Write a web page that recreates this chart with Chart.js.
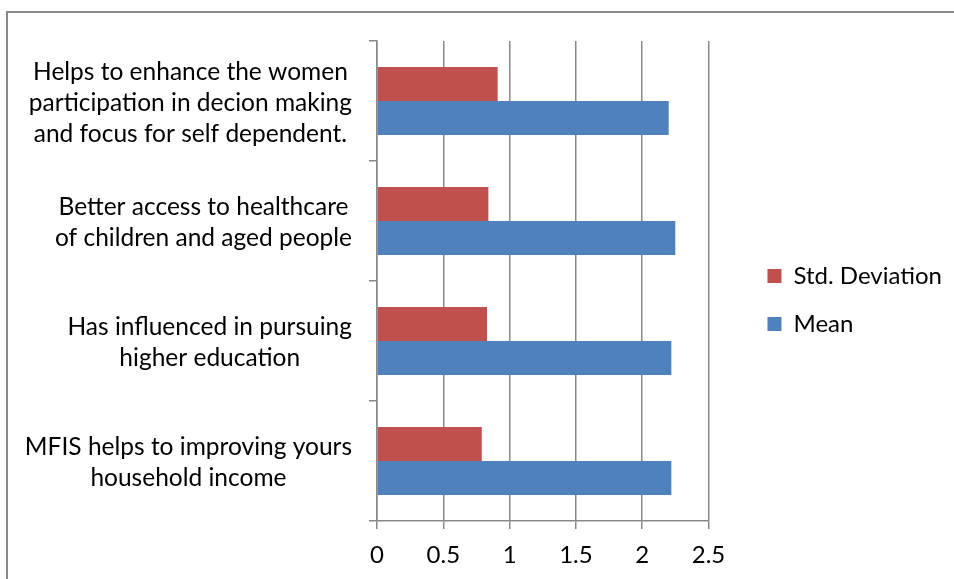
<!DOCTYPE html>
<html lang="en">
<head>
    <meta charset="UTF-8">
    <title>Mean and Std. Deviation</title>
    <script src="https://cdn.jsdelivr.net/npm/chart.js@4.4.1/dist/chart.umd.min.js"></script>
    <style>
        body {
            margin: 0;
            background-color: white;
            overflow: hidden;
        }
        .frame {
            position: absolute;
            left: 6px;
            top: 11px;
            width: 1000px;
            height: 600px;
            border-left: 2px solid #8a8a8a;
            border-top: 2px solid #8a8a8a;
        }
        #chart {
            position: absolute;
            left: 0;
            top: 0;
        }
    </style>
</head>
<body>
    <div class="frame"></div>
    <canvas id="chart" width="954" height="579"></canvas>

    <script>
        // statements, top to bottom
        const categories = [
            ['Helps to enhance the women', 'participation in decion making', 'and focus for self dependent.'],
            ['Better access to healthcare', 'of children and aged people'],
            ['Has influenced in pursuing', 'higher education'],
            ['MFIS helps to improving yours', 'household income']
        ];
        const stdDeviation = [0.91, 0.84, 0.83, 0.79];
        const meanValues = [2.20, 2.25, 2.22, 2.22];
        const xTicks = [0, 0.5, 1, 1.5, 2, 2.5];

        const fontFamily = 'Lato, "Open Sans", sans-serif';
        const gridColor = '#888888';

        // category text: each block centred on its own widest line, right edge near the axis
        const categoryLabels = {
            id: 'categoryLabels',
            afterDraw(chart) {
                const ctx = chart.ctx;
                const yScale = chart.scales.y;
                ctx.save();
                ctx.font = '24.5px ' + fontFamily;
                ctx.fillStyle = '#000';
                ctx.textAlign = 'center';
                ctx.textBaseline = 'middle';
                categories.forEach((lines, i) => {
                    const widest = Math.max(...lines.map(l => ctx.measureText(l).width));
                    const cx = yScale.right - 25 - widest / 2;
                    const cy = yScale.getPixelForTick(i) + 2;
                    lines.forEach((line, j) => {
                        ctx.fillText(line, cx, cy + (j - (lines.length - 1) / 2) * 31);
                    });
                });
                ctx.restore();
            }
        };

        // move the legend a little right of the plot and slightly up
        const legendOffset = {
            id: 'legendOffset',
            afterLayout(chart) {
                const lg = chart.legend;
                lg.left += 35;
                lg.right += 35;
                lg.top -= 10;
                lg.bottom -= 10;
            }
        };

        const ctx = document.getElementById('chart').getContext('2d');
        new Chart(ctx, {
            type: 'bar',
            data: {
                labels: categories,
                datasets: [
                    {
                        label: 'Std. Deviation',
                        data: stdDeviation,
                        backgroundColor: '#C0504D',
                        borderWidth: 0
                    },
                    {
                        label: 'Mean',
                        data: meanValues,
                        backgroundColor: '#4F81BD',
                        borderWidth: 0
                    }
                ]
            },
            options: {
                indexAxis: 'y',
                responsive: false,
                animation: false,
                devicePixelRatio: 1,
                categoryPercentage: 0.567,
                barPercentage: 1,
                layout: {
                    padding: { top: 41, bottom: 0, left: 0, right: 37 }
                },
                scales: {
                    x: {
                        min: 0,
                        max: 2.5,
                        afterFit: s => { s.height = 58; },
                        afterBuildTicks: s => { s.ticks = xTicks.map(v => ({ value: v })); },
                        grid: {
                            color: gridColor,
                            lineWidth: 1.5,
                            tickLength: 8
                        },
                        border: { color: gridColor, width: 1.5 },
                        ticks: {
                            color: '#000',
                            padding: 12,
                            font: { family: fontFamily, size: 24 },
                            callback: v => String(v)
                        }
                    },
                    y: {
                        afterFit: s => { s.width = 377; },
                        grid: {
                            offset: true,
                            drawOnChartArea: false,
                            color: gridColor,
                            lineWidth: 1.5,
                            tickLength: 8
                        },
                        border: { color: gridColor, width: 1.5 },
                        ticks: { display: false }
                    }
                },
                plugins: {
                    legend: {
                        position: 'right',
                        labels: {
                            boxWidth: 14,
                            boxHeight: 14,
                            padding: 24,
                            color: '#000',
                            font: { family: fontFamily, size: 24 }
                        }
                    },
                    tooltip: { enabled: false }
                }
            },
            plugins: [categoryLabels, legendOffset]
        });
    </script>
</body>
</html>
